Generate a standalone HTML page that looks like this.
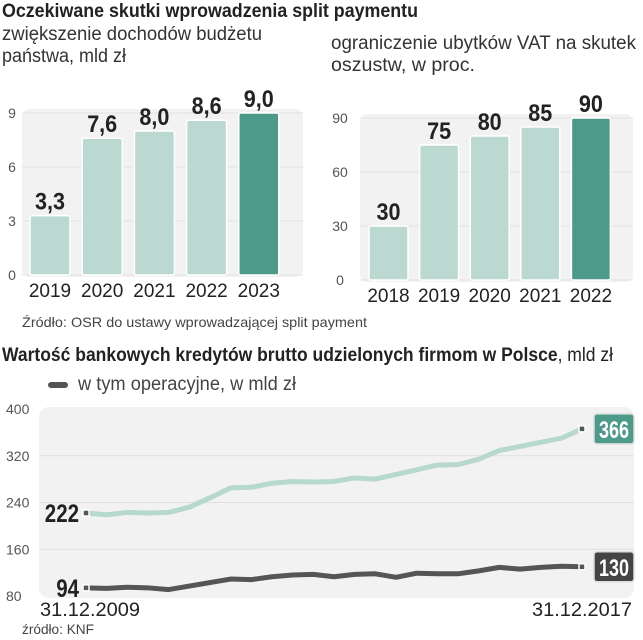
<!DOCTYPE html>
<html><head><meta charset="utf-8"><style>
body{margin:0;background:#fff;width:643px;height:640px;overflow:hidden}
svg{display:block;font-family:"Liberation Sans",sans-serif}
</style></head><body>
<svg id="c" width="643" height="640">
<text x="2" y="17" font-size="19" font-weight="bold" fill="#222" textLength="416" lengthAdjust="spacingAndGlyphs">Oczekiwane skutki wprowadzenia split paymentu</text>
<text x="2" y="40" font-size="19" fill="#333" textLength="260" lengthAdjust="spacingAndGlyphs">zwiększenie dochodów budżetu</text>
<text x="2" y="62" font-size="19" fill="#333" textLength="124" lengthAdjust="spacingAndGlyphs">państwa, mld zł</text>
<text x="331" y="49" font-size="19" fill="#333" textLength="305" lengthAdjust="spacingAndGlyphs">ograniczenie ubytków VAT na skutek</text>
<text x="331" y="71" font-size="19" fill="#333" textLength="144" lengthAdjust="spacingAndGlyphs">oszustw, w proc.</text>
<g id="left"></g><g id="right"></g>
<text x="22" y="327" font-size="14" fill="#444" textLength="345" lengthAdjust="spacingAndGlyphs">Źródło: OSR do ustawy wprowadzającej split payment</text>
<text x="2" y="361" font-size="19" fill="#222" textLength="611" lengthAdjust="spacingAndGlyphs"><tspan font-weight="bold">Wartość bankowych kredytów brutto udzielonych firmom w Polsce</tspan>, mld zł</text>
<rect x="48" y="382" width="20" height="6" rx="3" fill="#555"/>
<text x="78" y="390" font-size="19" fill="#444" textLength="218" lengthAdjust="spacingAndGlyphs">w tym operacyjne, w mld zł</text>
<g id="line"></g>
<text x="40" y="616" font-size="19" fill="#222" textLength="100" lengthAdjust="spacingAndGlyphs">31.12.2009</text>
<text x="532" y="616" font-size="19" fill="#222" textLength="100" lengthAdjust="spacingAndGlyphs">31.12.2017</text>
<text x="22" y="634" font-size="14" fill="#444" textLength="72" lengthAdjust="spacingAndGlyphs">źródło: KNF</text>
</svg>
<script>
const leftCats=["2019","2020","2021","2022","2023"];
const leftVals=[3.3,7.6,8.0,8.6,9.0];
const leftLabels=["3,3","7,6","8,0","8,6","9,0"];
const leftTicks=[0,3,6,9];
const rightCats=["2018","2019","2020","2021","2022"];
const rightVals=[30,75,80,85,90];
const rightTicks=[0,30,60,90];
const totalVals=[222,219,223,222,223,232,248,265,266,273,276,275,276,282,280,288,296,304,305,314,329,336,343,350,366];
const operVals=[94,93,95,94,91,97,103,109,108,113,116,117,113,117,118,112,119,118,118,123,129,126,129,131,130];
const lineTicks=[80,160,240,320,400];
const NS="http://www.w3.org/2000/svg";
function mk(p,t,a){const e=document.createElementNS(NS,t);for(const k in a)e.setAttribute(k,a[k]);p.appendChild(e);return e;}
function numW(s){let w=0;for(const c of String(s))w+=(c===','?6:12);return w;}
function bars(g,cats,vals,labels,ticks,max,x0,x1,yTop,yBase,bx,bw,tx){
  const y=v=>yBase-(v/max)*(yBase-yTop);
  const bg=mk(g,'rect',{x:x0,y:yTop-4,width:x1-x0,height:yBase-yTop+6,rx:8,fill:'#f2f2f2'});
  
  
  ticks.forEach(t=>{
    const l=mk(g,'line',{x1:x0,x2:x1,y1:y(t),y2:y(t),stroke:'#e2e2e2'});
    
    
    const tt=mk(g,'text',{x:tx,y:y(t)+5,'font-size':14,fill:'#555','text-anchor':'middle'});
    tt.textContent=t;
    
    
  });
  vals.forEach((v,i)=>{
    const x=bx+i*((x1-x0-20)/5);
    const r=mk(g,'rect',{x:x,y:y(v),width:bw,height:yBase-y(v),rx:2,fill:i==4?'#4e9a8a':'#bcd9d1',stroke:'#fff','stroke-width':1.5});
    
    
    const w=numW(labels[i]);
    const lt=mk(g,'text',{x:x+bw/2-w/2,y:y(v)-6,'font-size':24,'font-weight':'bold',fill:'#222',textLength:w,lengthAdjust:'spacingAndGlyphs'});
    lt.textContent=labels[i];
    
    
    const ct=mk(g,'text',{x:x+bw/2,y:yBase+22,'font-size':19,fill:'#222','text-anchor':'middle'});
    ct.textContent=cats[i];
    
    
  });
}
bars(document.getElementById('left'),leftCats,leftVals,leftLabels,leftTicks,9,22,303,113,275,30,40,12);
bars(document.getElementById('right'),rightCats,rightVals,rightVals.map(String),rightTicks,90,360,633,118,280,369,39,340);
(function(){
  const g=document.getElementById('line');
  const X0=86,X1=582,yv=v=>596-(v-80)*(596-409)/320;
  const xi=i=>X0+i*(X1-X0)/(totalVals.length-1);
  const bg=mk(g,'rect',{x:39,y:407,width:595,height:191,rx:10,fill:'#f2f2f2'});
  
  
  lineTicks.forEach(t=>{
    if(t!=80&&t!=400){const l=mk(g,'line',{x1:39,x2:634,y1:yv(t),y2:yv(t),stroke:'#e0e0e0'});
    
    }
    const tt=mk(g,'text',{x:6,y:yv(t)+5,'font-size':14,fill:'#555'});
    tt.textContent=t;
    
    
  });
  [[totalVals,'#b7d8cc','total-line','#4e9a8a'],[operVals,'#555','operating-line','#444']].forEach(([vals,col,name,boxc])=>{
    const p=mk(g,'polyline',{points:vals.map((v,i)=>xi(i)+','+yv(v)).join(' '),fill:'none',stroke:col,'stroke-width':5,'stroke-linejoin':'round'});
    
    
    const last=vals[vals.length-1],first=vals[0];
    [[xi(0),first],[X1,last]].forEach(([x,v])=>{
      const m=mk(g,'rect',{x:x-3,y:yv(v)-3,width:6,height:6,fill:'#555',stroke:'#fff','stroke-width':1.5});
      
      
    });
    const w1=numW(first)*0.95;
    const st=mk(g,'text',{x:79-w1,y:yv(first)+9,'font-size':25,'font-weight':'bold',fill:'#222',textLength:w1,lengthAdjust:'spacingAndGlyphs'});
    st.textContent=first;
    
    
    const b=mk(g,'rect',{x:594,y:yv(last)-15,width:40,height:30,rx:3,fill:boxc,stroke:'#ddd','stroke-width':1.5});
    
    
    const w2=30;
    const et=mk(g,'text',{x:614-w2/2,y:yv(last)+9,'font-size':24,'font-weight':'bold',fill:'#fff',textLength:w2,lengthAdjust:'spacingAndGlyphs'});
    et.textContent=last;
    
    
  });
})();
</script>
</body></html>
